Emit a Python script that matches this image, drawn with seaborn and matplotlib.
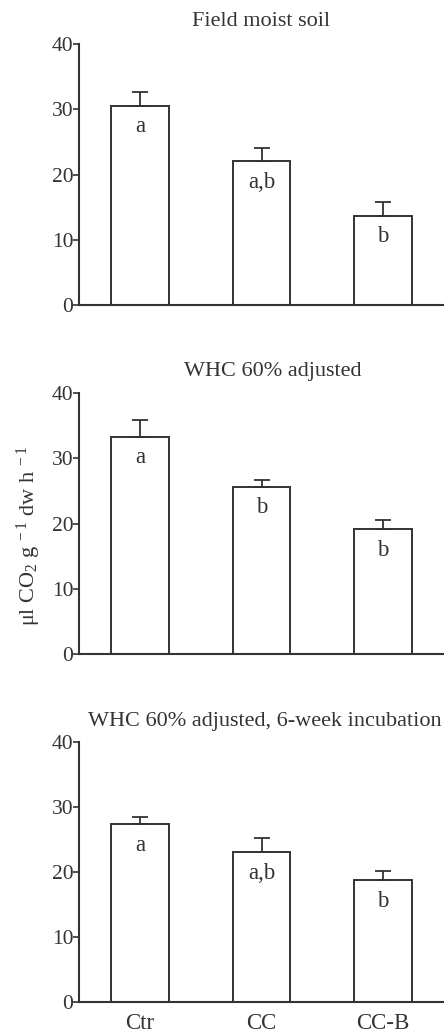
import matplotlib
matplotlib.use("Agg")
import matplotlib.pyplot as plt
import seaborn as sns
import pandas as pd
import numpy as np

# Soil respiration by treatment, three incubation conditions
treatments = ["Ctr", "CC", "CC-B"]
titles = ["Field moist soil", "WHC 60% adjusted", "WHC 60% adjusted, 6-week incubation"]
field_moist = [30.5, 22.0, 13.7]
field_moist_se = [2.2, 2.1, 2.1]
whc60 = [33.3, 25.6, 19.1]
whc60_se = [2.5, 1.1, 1.5]
whc60_6wk = [27.3, 23.0, 18.7]
whc60_6wk_se = [1.1, 2.2, 1.4]
letters_field = ["a", "a,b", "b"]
letters_whc = ["a", "b", "b"]
letters_6wk = ["a", "a,b", "b"]
yticks = [0, 10, 20, 30, 40]

panels = [
    (titles[0], field_moist, field_moist_se, letters_field),
    (titles[1], whc60, whc60_se, letters_whc),
    (titles[2], whc60_6wk, whc60_6wk_se, letters_6wk),
]

sns.set_theme(style="ticks")
plt.rcParams["font.family"] = ["Liberation Serif", "DejaVu Serif"]
plt.rcParams["mathtext.fontset"] = "custom"
plt.rcParams["mathtext.rm"] = "Liberation Serif"
plt.rcParams["mathtext.it"] = "Liberation Serif:italic"

ink = "#333333"
fig = plt.figure(figsize=(4.44, 10.33), dpi=100)
boxes = [(0.178, 0.7047, 0.822, 0.2527),
         (0.178, 0.3666, 0.822, 0.2532),
         (0.178, 0.0303, 0.822, 0.2517)]
title_x = [0.50, 0.53, 0.51]
title_pad = [13, 12, 11]

for i, ((title, vals, se, lets), box) in enumerate(zip(panels, boxes)):
    ax = fig.add_axes(box)
    df = pd.DataFrame({"treatment": treatments, "rate": vals})
    sns.barplot(data=df, x="treatment", y="rate", ax=ax, color="white",
                edgecolor=ink, linewidth=1.4, width=0.475, errorbar=None,
                saturation=1)
    xs = np.arange(len(treatments))
    ax.errorbar(xs, vals, yerr=[np.zeros(len(se)), se], fmt="none",
                ecolor=ink, elinewidth=1.3, capsize=6, capthick=1.3, zorder=1)
    for x, v, lab in zip(xs, vals, lets):
        ax.annotate(lab, (x, v), xytext=(0, -7.5), textcoords="offset points",
                    ha="center", va="top", fontsize=16.5, color=ink)
    ax.set_xlim(-0.5, 2.5)
    ax.set_ylim(0, 40)
    ax.set_yticks(yticks)
    ax.set_yticklabels([str(t) for t in yticks], fontsize=15.5, color=ink)
    ax.tick_params(axis="y", length=4, width=1.2, color=ink, pad=0)
    ax.tick_params(axis="x", length=0, pad=8, labelsize=16.5, labelcolor=ink)
    if i < 2:
        ax.set_xticklabels([])
    ax.set_xlabel("")
    ax.set_ylabel("")
    for s in ["top", "right"]:
        ax.spines[s].set_visible(False)
    for s in ["left", "bottom"]:
        ax.spines[s].set_linewidth(1.5)
        ax.spines[s].set_color(ink)
    ax.set_title(title, fontsize=16, color=ink, pad=title_pad[i], x=title_x[i])

fig.text(0.065, 0.482, r"μl CO$_2$ g$^{\ -1}$ dw h$^{\ -1}$", rotation=90,
         ha="center", va="center", fontsize=16, color=ink)

fig.savefig("out.png", dpi=100, facecolor="white")
